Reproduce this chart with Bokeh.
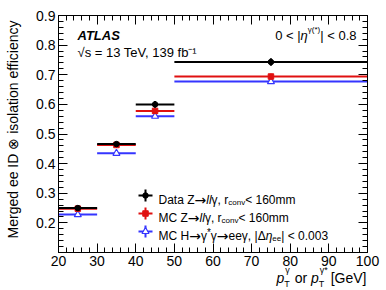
import numpy as np
from bokeh.plotting import figure
from bokeh.models import Range1d, LinearAxis, FixedTicker, Label
from bokeh.embed import file_html
from bokeh.resources import INLINE

# ---------------- data ----------------
bin_lo = [20, 30, 40, 50]
bin_hi = [30, 40, 50, 100]
bin_center = [25, 35, 45, 75]

data_eff = [0.250, 0.466, 0.600, 0.743]
data_err = [0.006, 0.005, 0.011, 0.013]

mcz_eff = [0.248, 0.463, 0.578, 0.694]
mcz_err = [0.004, 0.004, 0.007, 0.009]

mch_eff = [0.228, 0.435, 0.560, 0.677]
mch_err = [0.003, 0.003, 0.004, 0.005]

x_ticks = [20, 30, 40, 50, 60, 70, 80, 90, 100]
y_ticks = [0.2, 0.3, 0.4, 0.5, 0.6, 0.7, 0.8, 0.9]

BLACK = "#000000"
RED = "#e01010"
BLUE = "#3535ff"
FONT = "Liberation Sans"
ARROW_FONT = "DejaVu Sans"
NB = "\u00a0"

# ---------------- layout ----------------
CW, CH = 386, 290             # canvas
FL, FT, FR, FB = 58, 15, 367, 252   # axes box in canvas pixels
XMIN, XMAX, YMIN, YMAX = 20, 100, 0.1, 0.9
sx = (XMAX - XMIN) / (FR - FL)
sy = (YMAX - YMIN) / (FB - FT)
xr = Range1d(XMIN - FL * sx, XMAX + (CW - FR) * sx)
yr = Range1d(YMIN - (CH - FB) * sy, YMAX + FT * sy)


def px2x(px):
    return XMIN + (px - FL) * sx


def px2y(py):
    return YMAX - (py - FT) * sy


p = figure(width=CW, height=CH, x_range=xr, y_range=yr,
           output_backend="svg", toolbar_location=None,
           x_axis_location=None, y_axis_location=None,
           min_border=0)
p.background_fill_color = "white"
p.border_fill_color = "white"
p.outline_line_color = None
p.grid.visible = False

xt = FixedTicker(ticks=x_ticks, minor_ticks=list(np.arange(20, 100.1, 2)))
yt = FixedTicker(ticks=y_ticks, minor_ticks=[round(v, 2) for v in np.arange(0.1, 0.901, 0.02)])

ax_b = LinearAxis(ticker=xt, fixed_location=YMIN, bounds=(XMIN, XMAX))
ax_t = LinearAxis(ticker=xt, fixed_location=YMAX, bounds=(XMIN, XMAX))
ax_l = LinearAxis(ticker=yt, fixed_location=XMIN, bounds=(YMIN, YMAX))
ax_r = LinearAxis(ticker=yt, fixed_location=XMAX, bounds=(YMIN, YMAX))
p.add_layout(ax_b, "below")
p.add_layout(ax_t, "above")
p.add_layout(ax_l, "left")
p.add_layout(ax_r, "right")

for ax in (ax_b, ax_t, ax_l, ax_r):
    ax.major_tick_in = 9
    ax.major_tick_out = 0
    ax.minor_tick_in = 5
    ax.minor_tick_out = 0
    ax.axis_line_color = "black"
    ax.major_tick_line_color = "black"
    ax.minor_tick_line_color = "black"
    ax.major_label_text_font = FONT
    ax.major_label_text_font_size = "14px"
    ax.major_label_text_color = "black"
    ax.major_label_standoff = 3
for ax in (ax_t, ax_r):
    ax.major_label_text_color = None

# ---------------- series ----------------
def draw_series(eff, err, color, marker, size, fill, lw):
    eff = np.array(eff)
    err = np.array(err)
    p.segment(x0=bin_lo, y0=eff, x1=bin_hi, y1=eff, line_color=color, line_width=2)
    p.segment(x0=bin_center, y0=eff - err, x1=bin_center, y1=eff + err,
              line_color=color, line_width=2)
    p.scatter(x=bin_center, y=eff, marker=marker, size=size,
              line_color=color, fill_color=fill, line_width=lw)


draw_series(mch_eff, mch_err, BLUE, "triangle", 7, "white", 1.2)
draw_series(mcz_eff, mcz_err, RED, "square", 5.5, RED, 1)
draw_series(data_eff, data_err, BLACK, "circle", 5.5, BLACK, 1)

# ---------------- text helpers ----------------
WID = {' ': 278, NB: 278, '.': 278, ',': 278, '<': 584, '|': 260, '[': 278, ']': 278,
       '*': 389, '(': 333, ')': 333, '=': 584, '-': 333,
       'A': 667, 'C': 722, 'D': 722, 'G': 778, 'H': 722, 'I': 278, 'L': 556,
       'M': 833, 'S': 667, 'T': 611, 'V': 667, 'Z': 611,
       'a': 556, 'b': 556, 'c': 500, 'd': 556, 'e': 556, 'f': 278, 'g': 556,
       'i': 222, 'l': 222, 'm': 833, 'n': 556, 'o': 556, 'p': 556, 'r': 333,
       's': 500, 't': 278, 'v': 500, 'y': 500,
       'γ': 500, 'η': 556, 'Δ': 668, '→': 838}


def tw(s, size):
    return sum(WID.get(c, 556) for c in s) / 1000.0 * size


def lab(px, py, text, size, style="normal", align="left", baseline="alphabetic",
        angle=0.0, font=FONT):
    p.add_layout(Label(x=px2x(px), y=px2y(py), text=text, text_font=font,
                       text_font_size=f"{size}px", text_font_style=style,
                       text_color="black", text_align=align,
                       text_baseline=baseline, angle=angle))


def rich(px, py, parts):
    x = px
    for text, size, style, dy in parts:
        font = ARROW_FONT if text == "→" else FONT
        lab(x, py + dy, text, size, style, font=font)
        x += tw(text, size)
    return x


# ATLAS labels
lab(77, 35, "ATLAS", 13, "bold italic")
lab(77, 52, "√s = 13 TeV, 139 fb⁻¹", 13)

# eta range (right aligned)
parts_eta = [("0 < |", 13, "normal", 0), ("η", 13, "italic", 0),
             ("γ(*)", 8, "normal", -6), ("| < 0.8", 13, "normal", 0)]
total = sum(tw(t, s) for t, s, _, _ in parts_eta)
rich(356 - total, 35, parts_eta)

# y axis title
lab(12, 20, "Merged ee ID ⊗ isolation efficiency", 14, align="right",
    baseline="middle", angle=np.pi / 2)

# x axis title
xb = 277
x_or = NB + "or" + NB
x_gev = NB + "[GeV]"
x_parts_w = (tw("p", 14) + tw("T", 9) + 1 + tw(x_or, 14) + tw("p", 14)
             + tw("γ*", 9) + tw(x_gev, 14))
x0 = 366 - x_parts_w
lab(x0, xb, "p", 14, "italic")
x0 += tw("p", 14)
lab(x0, xb + 6, "T", 9)
lab(x0 + 1, xb - 8, "γ", 9)
x0 += tw("T", 9) + 1
lab(x0, xb, x_or, 14)
x0 += tw(x_or, 14)
lab(x0, xb, "p", 14, "italic")
x0 += tw("p", 14)
lab(x0, xb + 6, "T", 9)
lab(x0 + 1, xb - 8, "γ*", 9)
x0 += tw("γ*", 9)
lab(x0, xb, x_gev, 14)

# ---------------- legend ----------------
leg_x = 145
leg_rows = [195, 213, 231]
leg_colors = [BLACK, RED, BLUE]
leg_markers = ["circle", "square", "triangle"]
leg_fill = [BLACK, RED, "white"]
leg_size = [5.5, 5.5, 7]
leg_lw = [1, 1, 1.2]
for ry, c, m, f, s, w in zip(leg_rows, leg_colors, leg_markers, leg_fill, leg_size, leg_lw):
    p.segment(x0=[px2x(leg_x - 7)], y0=[px2y(ry)], x1=[px2x(leg_x + 7)], y1=[px2y(ry)],
              line_color=c, line_width=2)
    p.segment(x0=[px2x(leg_x)], y0=[px2y(ry - 6)], x1=[px2x(leg_x)], y1=[px2y(ry + 6)],
              line_color=c, line_width=2)
    p.scatter(x=[px2x(leg_x)], y=[px2y(ry)], marker=m, size=s, line_color=c,
              fill_color=f, line_width=w)

tx = 158
AR = ("→", 14, "normal", 0)
rich(tx, leg_rows[0] + 4, [("Data Z", 12, "normal", 0), AR, ("ll", 12, "italic", 0),
                           ("γ, r", 12, "normal", 0), ("conv", 8, "normal", 3),
                           ("< 160mm", 12, "normal", 0)])
rich(tx, leg_rows[1] + 4, [("MC Z", 12, "normal", 0), AR, ("ll", 12, "italic", 0),
                           ("γ, r", 12, "normal", 0), ("conv", 8, "normal", 3),
                           ("< 160mm", 12, "normal", 0)])
rich(tx, leg_rows[2] + 4, [("MC H", 12, "normal", 0), AR, ("γ", 12, "normal", 0),
                           ("*", 10, "normal", -3), ("γ", 12, "normal", 0), AR,
                           ("eeγ, |Δ", 12, "normal", 0), ("η", 12, "italic", 0),
                           ("ee", 8, "normal", 3), ("| < 0.003", 12, "normal", 0)])

open("out.html", "w").write(file_html(p, INLINE))
